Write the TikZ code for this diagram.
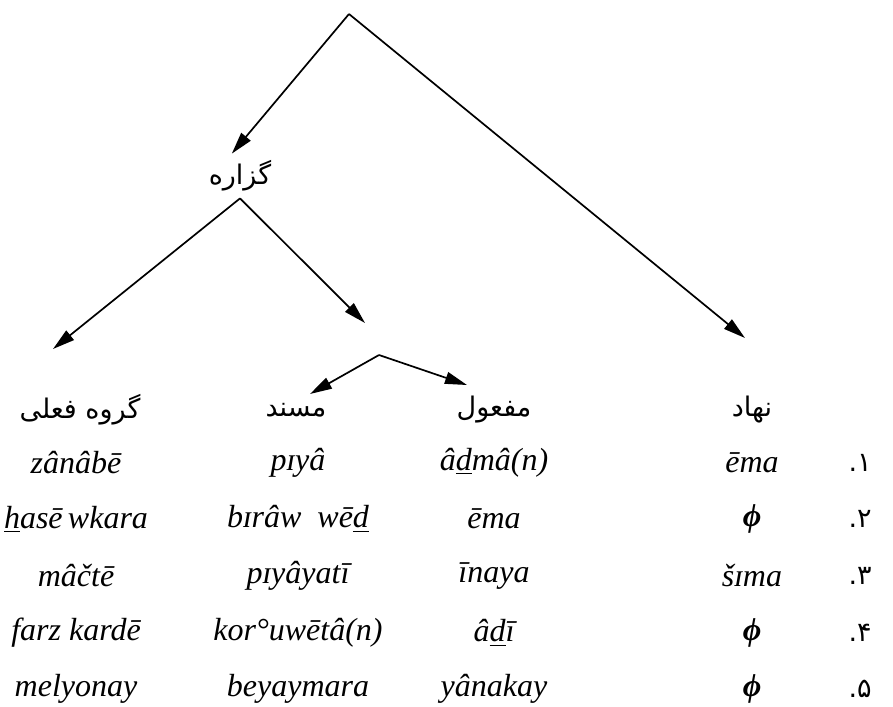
\documentclass[tikz,border=0pt]{standalone}
\usepackage{fontspec}
\setmainfont{Liberation Serif}
\newfontfamily\farsi[Script=Arabic]{DejaVu Sans}
\TeXXeTstate=1
\usetikzlibrary{arrows.meta}
\tikzset{
  branch/.style={-{Triangle[length=11pt,width=6pt]},line width=0.85pt},
  fa/.style={font=\farsi\fontsize{13.5}{16}\selectfont,inner sep=1pt},
  lat/.style={font=\itshape\fontsize{16}{19}\selectfont,inner sep=1pt},
}
\begin{document}
\begin{tikzpicture}[x=0.5pt,y=-0.5pt]
\useasboundingbox (0,0) rectangle (893,706);
% the tree over the table
\coordinate (root) at (349,14);
\node[fa,minimum height=22pt] (pred) at (240,176) {\beginR گزاره\endR};
\coordinate (verb) at (53,349);
\coordinate (comp) at (365,323);
\coordinate (subj) at (745,338);
\coordinate (fork) at (379,355);
\coordinate (mus) at (310,394);
\coordinate (maf) at (467,385);
\draw[branch] (root)--(pred.110);
\draw[branch] (root)--(subj);
\draw[branch] (pred.south)--(verb);
\draw[branch] (pred.south)--(comp);
\draw[branch] (fork)--(mus);
\draw[branch] (fork)--(maf);
% column heads
\node[fa] (hv) at (80,410) {\beginR گروه فعلی\endR};
\node[fa] (hp) at (296,410) {\beginR مسند\endR};
\node[fa] (ho) at (494,410) {\beginR مفعول\endR};
\node[fa] (hs) at (752,410) {\beginR نهاد\endR};
% the five examples
\node[lat] (v1) at (76,463) {zânâbē};
\node[lat] (p1) at (298,463) {pɪyâ};
\node[lat] (o1) at (494,463) {â\underline{d}mâ(n)};
\node[lat] (s1) at (752,463) {ēma};
\node[fa,anchor=east] (n1) at (874,463) {\beginR ۱.\endR};
\node[lat] (v2) at (76,519) {\underline{h}asē\,wkara};
\node[lat] (p2) at (298,519) {bɪrâw~ wē\underline{d}};
\node[lat] (o2) at (494,519) {ēma};
\node[lat] (s2) at (752,519) {\bfseries ϕ};
\node[fa,anchor=east] (n2) at (874,519) {\beginR ۲.\endR};
\node[lat] (v3) at (76,576) {mâčtē};
\node[lat] (p3) at (298,576) {pɪyâyatī};
\node[lat] (o3) at (494,576) {īnaya};
\node[lat] (s3) at (752,576) {šɪma};
\node[fa,anchor=east] (n3) at (874,576) {\beginR ۳.\endR};
\node[lat] (v4) at (76,633) {farz kardē};
\node[lat] (p4) at (298,633) {kor°uwētâ(n)};
\node[lat] (o4) at (494,633) {â\underline{d}ī};
\node[lat] (s4) at (752,633) {\bfseries ϕ};
\node[fa,anchor=east] (n4) at (874,633) {\beginR ۴.\endR};
\node[lat] (v5) at (76,689) {melyonay};
\node[lat] (p5) at (298,689) {beyaymara};
\node[lat] (o5) at (494,689) {yânakay};
\node[lat] (s5) at (752,689) {\bfseries ϕ};
\node[fa,anchor=east] (n5) at (874,689) {\beginR ۵.\endR};
\end{tikzpicture}
\end{document}
